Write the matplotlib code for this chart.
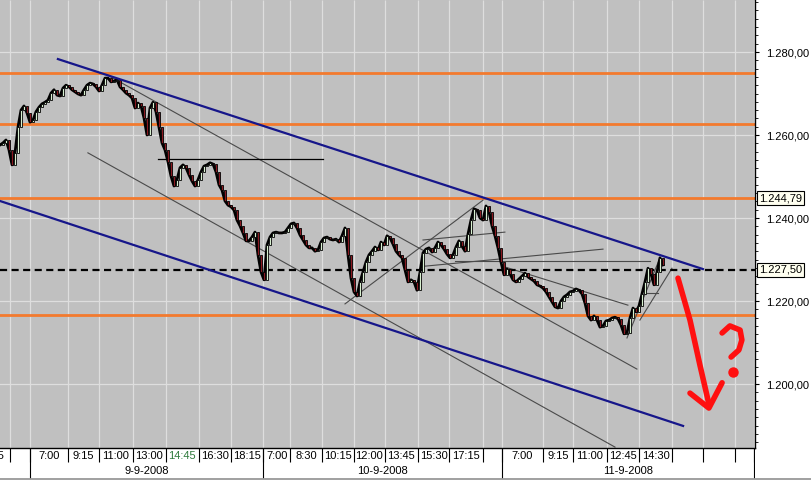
import numpy as np
import matplotlib.pyplot as plt
from matplotlib.ticker import MultipleLocator, FuncFormatter
from matplotlib.lines import Line2D
import matplotlib.transforms as mtransforms

plt.rcParams['font.family'] = ['Liberation Sans', 'DejaVu Sans']

# closing prices, one bar per slot (9-9-2008 .. 11-9-2008)
closes = [
    1257.6, 1258.1, 1258.8, 1256.4, 1252.8, 1255.7, 1261.9, 1266.0, 1267.0, 1265.3, 1263.1, 1263.6,
    1265.6, 1266.7, 1267.5, 1267.9, 1268.4, 1270.1, 1270.9, 1269.6, 1269.4, 1271.3, 1272.0, 1271.6,
    1270.9, 1270.4, 1269.9, 1269.6, 1270.9, 1272.0, 1272.5, 1272.3, 1271.6, 1270.6, 1272.0, 1273.7,
    1273.7, 1272.8, 1273.0, 1273.3, 1271.6, 1270.9, 1270.1, 1269.6, 1268.9, 1266.5, 1267.7, 1267.0,
    1264.1, 1260.0, 1266.5, 1267.9, 1265.6, 1261.9, 1258.1, 1256.4, 1253.5, 1250.1, 1247.7, 1249.2,
    1252.1, 1252.8, 1252.1, 1250.4, 1248.9, 1247.7, 1249.2, 1251.1, 1252.5, 1252.8, 1253.3, 1253.0,
    1251.1, 1248.0, 1246.7, 1244.1, 1243.1, 1242.7, 1241.9, 1239.5, 1238.1, 1236.4, 1234.5, 1234.5,
    1235.4, 1236.6, 1231.1, 1227.0, 1225.1, 1233.5, 1235.4, 1236.4, 1236.6, 1236.4, 1236.4, 1236.6,
    1237.6, 1238.6, 1238.8, 1237.6, 1235.9, 1234.7, 1233.5, 1232.8, 1232.8, 1232.0, 1232.3, 1234.2,
    1235.2, 1235.4, 1234.9, 1234.7, 1234.9, 1234.2, 1235.7, 1237.6, 1231.1, 1225.5, 1222.2, 1221.2,
    1224.6, 1227.0, 1229.4, 1231.1, 1232.0, 1233.0, 1232.3, 1234.2, 1233.5, 1235.7, 1235.2, 1233.7,
    1232.0, 1231.1, 1230.4, 1227.5, 1224.6, 1225.1, 1224.6, 1222.6, 1227.0, 1231.6, 1232.5, 1232.8,
    1231.8, 1232.8, 1234.2, 1233.5, 1232.5, 1231.3, 1230.4, 1231.1, 1233.0, 1234.5, 1233.2, 1232.0,
    1236.1, 1239.5, 1242.2, 1241.9, 1240.0, 1239.5, 1242.9, 1241.5, 1238.1, 1235.7, 1232.8, 1229.4,
    1226.3, 1227.7, 1226.5, 1225.1, 1224.6, 1225.3, 1226.0, 1226.7, 1225.8, 1225.3, 1224.8, 1223.9,
    1223.6, 1223.1, 1222.2, 1221.0, 1219.8, 1218.6, 1218.3, 1220.0, 1221.0, 1221.5, 1222.2, 1222.4,
    1222.9, 1222.6, 1221.7, 1219.5, 1216.4, 1215.4, 1216.4, 1215.4, 1213.7, 1214.0, 1215.2, 1215.4,
    1215.9, 1216.1, 1215.7, 1214.2, 1212.1, 1212.3, 1215.9, 1218.3, 1217.4, 1218.8, 1221.7, 1224.6,
    1227.9, 1226.5, 1223.9, 1227.0, 1230.4, 1228.7,
]

orange_levels = [1274.9, 1262.6, 1244.79, 1216.6]
dashed_level = 1227.5
boxed_levels = [1244.79, 1227.50]

# time cells on the x axis (bar index edges) and their labels
cell_edges = [-10, 3.3, 10, 22.7, 33, 44.3, 55.3, 66.3, 77, 87.7, 96.7, 107.3, 118, 128.3,
              139.3, 149.7, 161, 167.3, 181, 191, 202.3, 213, 224, 234.3, 245, 251.3]
cell_labels = ['18:15', '', '7:00', '9:15', '11:00', '13:00', '14:45', '16:30', '18:15',
               '7:00', '8:30', '10:15', '12:00', '13:45', '15:30', '17:15', '',
               '7:00', '9:15', '11:00', '12:45', '14:30', '', '', '']
day_edges = [10, 87.7, 167.3, 251.3]
day_labels = ['9-9-2008', '10-9-2008', '11-9-2008']

# drawn trend lines: (bar, price) end points
blue_lines = [[(19.3, 1278.3), (234.3, 1227.7)],
              [(0, 1244.1), (227.7, 1189.9)]]
gray_lines = [[(35.7, 1274.5), (212.3, 1203.6)],
              [(29.3, 1255.7), (205.0, 1184.8)],
              [(115.0, 1219.3), (161.0, 1244.3)],
              [(141.7, 1228.4), (201.0, 1232.5)],
              [(141.0, 1234.7), (168.3, 1236.6)],
              [(151.7, 1229.6), (216.7, 1229.6)],
              [(168.3, 1228.2), (209.3, 1219.0)],
              [(209.0, 1211.1), (220.0, 1230.4)],
              [(213.3, 1215.4), (224.0, 1227.9)],
              [(215.7, 1221.9), (219.3, 1221.9)]]
black_line = [(52.7, 1254.2), (107.7, 1254.2)]

arrow_shaft = [(226, 1225.5), (230, 1215.4), (233.3, 1204.6), (236.3, 1195.2)]
arrow_head = [(230, 1197.8), (236.3, 1194.2), (240.7, 1200.3)]
question = [(240.7, 1212.3), (243.3, 1214.0), (246.7, 1213.0), (247.3, 1210.6),
            (246.3, 1208.2), (243.7, 1206.5)]
question_dot = (244.3, 1202.9)


def eu(v, pos=None):
    s = '{:,.2f}'.format(v)
    return s.replace(',', '#').replace('.', ',').replace('#', '.')


fig = plt.figure(figsize=(8.11, 4.8), dpi=100)
fig.patch.set_facecolor('white')
ax = fig.add_axes([0, 32 / 480, 755 / 811, 448 / 480])
ax.set_facecolor('#c0c0c0')
xmin, xmax = 0, 251.67
ymin, ymax = 1184.58, 1292.53
ax.set_xlim(xmin, xmax)
ax.set_ylim(ymin, ymax)

# grid
ax.vlines(cell_edges, ymin, ymax, color='#dedede', lw=0.9, zorder=0.5)
for v in [1200, 1220, 1240, 1260, 1280]:
    ax.axhline(v, color='#dedede', lw=0.9, zorder=0.5)

for lv in orange_levels:
    ax.axhline(lv, color='#f37a2e', lw=2.0, zorder=1)

for ln in gray_lines:
    xs, ys = zip(*ln)
    ax.plot(xs, ys, color='#4a4a4a', lw=0.8, zorder=2)
xs, ys = zip(*black_line)
ax.plot(xs, ys, color='black', lw=0.9, zorder=2)

ax.axhline(dashed_level, color='black', lw=1.6, dashes=(3.2, 2.0), zorder=2.5)

# candles
x = np.arange(len(closes))
c = np.array(closes)
o = np.r_[c[0], c[:-1]]
ax.plot(x, c, color='black', lw=2.0, zorder=3)
cols = np.where(c >= o, '#d8f0d0', '#8a1a22')
ax.bar(x, np.abs(c - o), bottom=np.minimum(o, c), width=0.85, color=cols,
       edgecolor='black', linewidth=0.6, zorder=3.5)

for ln in blue_lines:
    xs, ys = zip(*ln)
    ax.plot(xs, ys, color='#16168a', lw=1.6, zorder=4)

# red scribble
for pts in [arrow_shaft, arrow_head, question]:
    xs, ys = zip(*pts)
    ax.plot(xs, ys, color='#ff1010', lw=4.0, solid_capstyle='round',
            solid_joinstyle='round', zorder=5)
ax.plot(*question_dot, 'o', color='#ff1010', ms=6.5, zorder=5)

# right axis
ax.yaxis.tick_right()
ax.set_yticks([1200, 1220, 1240, 1260, 1280])
ax.yaxis.set_minor_locator(MultipleLocator(2))
ax.yaxis.set_major_formatter(FuncFormatter(eu))
ax.tick_params(axis='y', which='major', direction='out', length=3, pad=5, labelsize=8)
ax.tick_params(axis='y', which='minor', direction='out', length=2)
ax.set_xticks([])
for s in ['left', 'top']:
    ax.spines[s].set_visible(False)
ax.spines['right'].set_linewidth(1.0)
ax.spines['bottom'].set_linewidth(1.0)

tr = mtransforms.blended_transform_factory(fig.transFigure, ax.transData)
for lv in boxed_levels:
    fig.text(759 / 811, lv, eu(lv), transform=tr, fontsize=8, va='center', ha='left',
             bbox=dict(boxstyle='square,pad=0.2', fc='#fffff0', ec='black', lw=0.8))

# bottom time / date strip
bax = fig.add_axes([0, 0, 755 / 811, 32 / 480])
bax.set_xlim(xmin, xmax)
bax.set_ylim(32, 0)
bax.axis('off')
bax.vlines(cell_edges, 0, 14, color='black', lw=0.8)
bax.vlines(day_edges, 0, 30, color='black', lw=0.8)
for i, lab in enumerate(cell_labels):
    col = '#2e7a3c' if lab == '14:45' else 'black'
    bax.text((cell_edges[i] + cell_edges[i + 1]) / 2, 8, lab, ha='center', va='center',
             fontsize=8, color=col, clip_on=False)
for i, lab in enumerate(day_labels):
    bax.text((day_edges[i] + day_edges[i + 1]) / 2, 23, lab, ha='center', va='center',
             fontsize=8)
fig.add_artist(Line2D([0, 1], [1 / 480, 1 / 480], color='#909090', lw=1.2))

fig.savefig('out.png', dpi=100)
